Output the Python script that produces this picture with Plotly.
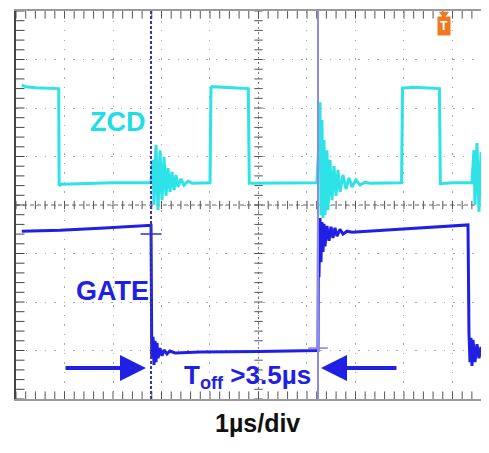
import numpy as np
import plotly.graph_objects as go

# ---- data: time in µs (1 µs/div), amplitude in screen divisions ----
zcd_t = [-4.88, -4.80, -4.60, -4.30, -4.12, -4.11, -4.06, -3.00, -2.22,
         -2.175, -2.155, -2.113, -2.072, -2.031, -1.990, -1.948, -1.907, -1.866, -1.825,
         -1.784, -1.742, -1.701, -1.660, -1.598, -1.536, -1.454, -1.371, -1.00,
         -0.98, -0.96, -0.60, -0.21, -0.19, 0.50, 1.206,
         1.247, 1.268, 1.289, 1.309, 1.330, 1.351, 1.371, 1.412, 1.433, 1.474, 1.515,
         1.557, 1.598, 1.639, 1.680, 1.742, 1.804, 1.866, 1.928, 2.010, 2.093, 2.196, 2.299,
         2.95, 2.97, 3.20, 3.73, 3.75, 4.00, 4.40,
         4.443, 4.464, 4.505, 4.546, 4.588, 4.629, 4.670, 4.711, 4.753]
zcd_v = [2.47, 2.44, 2.42, 2.41, 2.40, 0.40, 0.43, 0.46, 0.46,
         0.93, 0.00, 1.24, -0.10, 1.13, 0.10, 0.99, 0.19, 0.76, 0.27,
         0.68, 0.31, 0.62, 0.37, 0.54, 0.41, 0.49, 0.45, 0.46,
         2.41, 2.44, 2.42, 2.40, 0.45, 0.46, 0.46,
         1.34, 2.12, -0.21, 1.75, -0.27, 1.34, -0.21, 1.13, -0.10, 0.93, 0.10,
         0.80, 0.19, 0.72, 0.27, 0.62, 0.33, 0.56, 0.37, 0.52, 0.41, 0.47, 0.45,
         0.46, 2.41, 2.43, 2.40, 0.44, 0.46, 0.46,
         1.13, 0.00, 1.28, -0.14, 1.09, 0.00, 0.93, 0.10, 0.82]

gate_t = [-4.88, -4.09, -3.27, -2.24, -2.216, -2.20, -2.175, -2.155, -2.134, -2.113,
          -2.093, -2.072, -2.031, -1.990, -1.948, -1.887, -1.825, -1.722, -1.20, 0.00,
          1.206, 1.227,
          1.237, 1.247, 1.268, 1.289, 1.309, 1.330, 1.351, 1.371, 1.412, 1.454, 1.495,
          1.536, 1.577, 1.619, 1.680, 1.742, 1.825, 1.928, 2.90, 4.32,
          4.340, 4.361, 4.381, 4.402, 4.423, 4.464, 4.505, 4.546, 4.588, 4.649, 4.711, 4.753]
gate_v = [-0.54, -0.52, -0.48, -0.43, -0.42, -3.16, -2.72, -3.30, -2.80, -3.24,
          -2.84, -3.16, -2.95, -3.11, -2.99, -3.07, -3.01, -3.05, -3.03, -3.02,
          -3.01, -3.00,
          -0.27, -1.49, -0.27, -1.18, -0.35, -0.97, -0.39, -0.85, -0.43, -0.74, -0.45,
          -0.68, -0.47, -0.64, -0.50, -0.60, -0.54, -0.56, -0.50, -0.41,
          -2.64, -3.24, -2.74, -3.32, -2.78, -3.24, -2.87, -3.16, -2.93, -3.11, -2.99, -3.05]

cursor_off = -2.216   # gate turn-off
cursor_on = 1.227     # gate turn-on
labels = {"zcd": "ZCD", "gate": "GATE", "toff": "T<sub>off</sub> >3.5µs", "scale": "1µs/div"}

CYAN = "#2ee3e8"
BLUE = "#1f1fe6"
X0, X1 = -5, 4.753
Y0, Y1 = -4, 4

fig = go.Figure()

# graticule ticks (centre axes and borders)
minor_x = np.round(np.arange(-5, 5.01, 0.2), 3)
minor_y = np.round(np.arange(-4, 4.01, 0.2), 3)
fig.add_trace(go.Scatter(x=minor_x, y=np.zeros_like(minor_x), mode="markers",
                         marker=dict(symbol="line-ns", size=6, line=dict(color="#555", width=1)),
                         hoverinfo="skip", showlegend=False))
fig.add_trace(go.Scatter(x=np.zeros_like(minor_y), y=minor_y, mode="markers",
                         marker=dict(symbol="line-ew", size=6, line=dict(color="#555", width=1)),
                         hoverinfo="skip", showlegend=False))
for yy in (Y0 + 0.07, Y1 - 0.07):
    fig.add_trace(go.Scatter(x=minor_x, y=[yy] * len(minor_x), mode="markers",
                             marker=dict(symbol="line-ns", size=6, line=dict(color="#555", width=1)),
                             hoverinfo="skip", showlegend=False))
fig.add_trace(go.Scatter(x=[X0 + 0.06] * len(minor_y), y=minor_y, mode="markers",
                         marker=dict(symbol="line-ew", size=8, line=dict(color="#444", width=1)),
                         hoverinfo="skip", showlegend=False))

# signals
fig.add_trace(go.Scatter(x=zcd_t, y=zcd_v, mode="lines", line=dict(color=CYAN, width=3),
                         hoverinfo="skip", showlegend=False))
fig.add_trace(go.Scatter(x=gate_t, y=gate_v, mode="lines", line=dict(color=BLUE, width=3),
                         hoverinfo="skip", showlegend=False))

# cursor markers
fig.add_trace(go.Scatter(x=[cursor_off], y=[-0.60], mode="markers",
                         marker=dict(symbol="cross-thin", size=15, line=dict(color="#3030d0", width=1.5)),
                         hoverinfo="skip", showlegend=False))
fig.add_trace(go.Scatter(x=[cursor_on], y=[-2.95], mode="markers",
                         marker=dict(symbol="line-ew", size=14, line=dict(color="#8080d8", width=1.5)),
                         hoverinfo="skip", showlegend=False))

# channel markers (outside the grid)
fig.add_trace(go.Scatter(x=[-5.12], y=[0.56], mode="markers", cliponaxis=False,
                         marker=dict(symbol="triangle-right-open", size=10, line=dict(color="#30c8c8", width=1.5)),
                         hoverinfo="skip", showlegend=False))
fig.add_trace(go.Scatter(x=[-5.16], y=[-2.99], mode="markers", cliponaxis=False,
                         marker=dict(symbol="triangle-right", size=12, color="#1a1a8c"),
                         hoverinfo="skip", showlegend=False))
fig.add_trace(go.Scatter(x=[4.66], y=[1.18], mode="markers", cliponaxis=False,
                         marker=dict(symbol="triangle-left", size=8, color="#20b8b8"),
                         hoverinfo="skip", showlegend=False))
fig.add_trace(go.Scatter(x=[3.825], y=[3.94], mode="markers", cliponaxis=False,
                         marker=dict(symbol="triangle-down", size=9, color="#f07820"),
                         hoverinfo="skip", showlegend=False))

shapes = [
    dict(type="line", x0=0, x1=0, y0=Y0, y1=Y1, line=dict(color="#777", width=1, dash="2px,3px"), layer="below"),
    dict(type="line", x0=X0, x1=X1, y0=0, y1=0, line=dict(color="#666", width=1, dash="4px,3px"), layer="below"),
    dict(type="line", x0=cursor_off, x1=cursor_off, y0=Y0, y1=Y1,
         line=dict(color="#3535b0", width=2, dash="3px,2px"), layer="above"),
    dict(type="line", x0=cursor_on, x1=cursor_on, y0=Y0, y1=Y1,
         line=dict(color="#8c8ce6", width=2), layer="above"),
]

annotations = [
    dict(x=-2.90, y=1.71, text="<b>%s</b>" % labels["zcd"], showarrow=False,
         font=dict(family="Liberation Sans, Arial", size=27, color="#22dde6")),
    dict(x=-3.01, y=-1.77, text="<b>%s</b>" % labels["gate"], showarrow=False,
         font=dict(family="Liberation Sans, Arial", size=27, color=BLUE)),
    dict(x=-0.22, y=-3.53, text="<b>%s</b>" % labels["toff"], showarrow=False,
         font=dict(family="Liberation Sans, Arial", size=26, color=BLUE)),
    dict(x=0.5116, y=-0.103, xref="paper", yref="paper", text="<b>%s</b>" % labels["scale"],
         showarrow=False, font=dict(family="Liberation Sans, Arial", size=25, color="#111")),
    dict(x=-2.32, y=-3.36, ax=-4.01, ay=-3.36, axref="x", ayref="y", text="", showarrow=True,
         arrowhead=2, arrowsize=1.3, arrowwidth=4, arrowcolor=BLUE, standoff=0),
    dict(x=1.289, y=-3.36, ax=2.876, ay=-3.36, axref="x", ayref="y", text="", showarrow=True,
         arrowhead=2, arrowsize=1.3, arrowwidth=4, arrowcolor=BLUE, standoff=0),
    dict(x=3.825, y=3.70, text="<b>T</b>", showarrow=False, bgcolor="#f07820", borderpad=2,
         font=dict(family="Liberation Sans, Arial", size=12, color="white")),
]

# the page body has an 8px margin, so the figure is offset by (8, 8)
fig.update_layout(
    width=481, height=445,
    margin=dict(l=8, r=0, t=3, b=54),
    paper_bgcolor="white", plot_bgcolor="white",
    shapes=shapes, annotations=annotations,
    xaxis=dict(range=[X0, X1], tick0=0, dtick=1, showticklabels=False, ticks="",
               showgrid=True, gridcolor="#a8a8a8", griddash="1.5px,8px", gridwidth=1,
               zeroline=False, showline=True, linecolor="#9a9a9a", linewidth=2, mirror=True,
               fixedrange=True),
    yaxis=dict(range=[Y0, Y1], tick0=0, dtick=1, showticklabels=False, ticks="",
               showgrid=True, gridcolor="#a8a8a8", griddash="1.5px,8px", gridwidth=1,
               zeroline=False, showline=True, linecolor="#444", linewidth=2, mirror=False,
               fixedrange=True),
)

fig.write_html("out.html")
